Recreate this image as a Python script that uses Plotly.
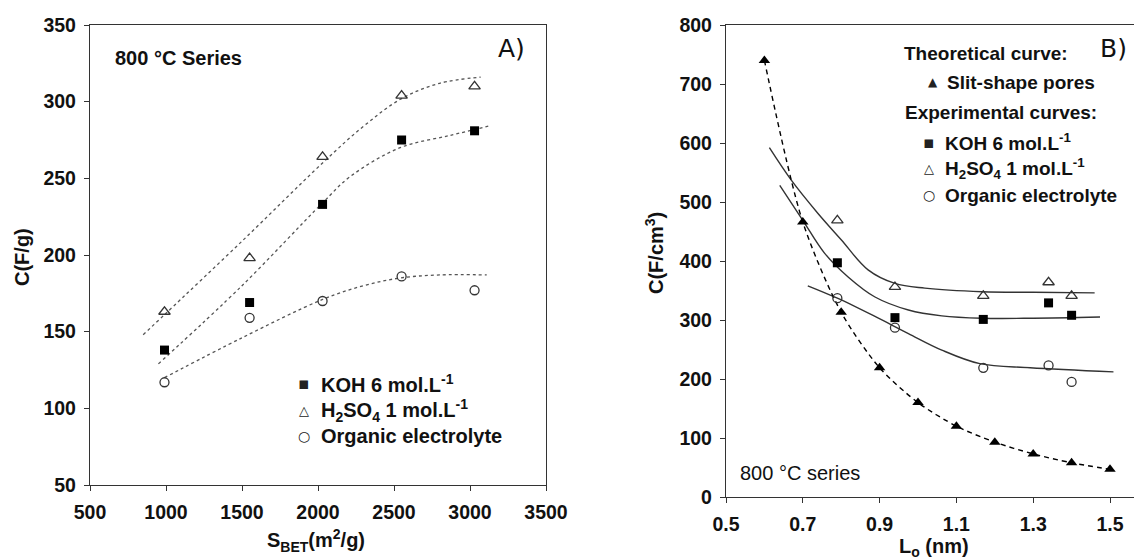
import plotly.graph_objects as go

# ---------------- Panel A data ----------------
sbet = [990, 1550, 2030, 2550, 3030]
koh_a = [138, 169, 233, 275, 281]
h2so4_a = [163, 198, 264, 304, 310]
org_a = [117, 159, 170, 186, 177]

# fitted (dashed) curves
koh_a_fit_x = [950, 1500, 2030, 2210, 2540, 2870, 3120]
koh_a_fit_y = [129, 180, 234, 251, 270, 278, 284]
h2so4_a_fit_x = [850, 1000, 1500, 2030, 2300, 2550, 2800, 3070]
h2so4_a_fit_y = [148, 162, 209, 260, 284, 302, 312, 316]
org_a_fit_x = [990, 1500, 2030, 2300, 2540, 2800, 3110]
org_a_fit_y = [120, 146, 171, 180, 185, 187, 187]

# ---------------- Panel B data ----------------
lo = [0.79, 0.94, 1.17, 1.34, 1.40]
koh_b = [397, 304, 301, 329, 308]
h2so4_b = [469, 356, 341, 364, 341]
org_b = [337, 287, 219, 223, 195]

slit_x = [0.6, 0.7, 0.8, 0.9, 1.0, 1.1, 1.2, 1.3, 1.4, 1.5]
slit_y = [740, 466, 313, 219, 160, 120, 93, 73, 58, 47]

h2so4_b_fit_x = [0.613, 0.67, 0.739, 0.80, 0.87, 0.94, 1.018, 1.167, 1.30, 1.46]
h2so4_b_fit_y = [592, 537, 481, 436, 385, 362, 354, 348, 347, 346]
koh_b_fit_x = [0.64, 0.70, 0.757, 0.818, 0.888, 0.975, 1.062, 1.167, 1.30, 1.474]
koh_b_fit_y = [528, 469, 413, 373, 339, 317, 307, 303, 303, 305]
org_b_fit_x = [0.713, 0.79, 0.888, 0.975, 1.062, 1.161, 1.292, 1.509]
org_b_fit_y = [358, 337, 306, 277, 249, 226, 219, 212]

legend_a = ["KOH 6 mol.L<sup>-1</sup>", "H<sub>2</sub>SO<sub>4</sub> 1 mol.L<sup>-1</sup>", "Organic electrolyte"]
legend_b = ["Slit-shape pores", "KOH 6 mol.L<sup>-1</sup>", "H<sub>2</sub>SO<sub>4</sub> 1 mol.L<sup>-1</sup>", "Organic electrolyte"]

W, H = 1134, 560
def px(x):
    return x / W
def py(y):
    return 1 - y / H

AX = "#333333"
FONT = "Liberation Sans, Arial, sans-serif"

fig = go.Figure()

dash_a = dict(color="#555555", width=1.3, dash="3px,3px", shape="spline", smoothing=1.0)
for fx, fy in [(h2so4_a_fit_x, h2so4_a_fit_y), (koh_a_fit_x, koh_a_fit_y), (org_a_fit_x, org_a_fit_y)]:
    fig.add_trace(go.Scatter(x=fx, y=fy, mode="lines", line=dash_a, xaxis="x", yaxis="y",
                             showlegend=False, hoverinfo="skip"))

fig.add_trace(go.Scatter(x=sbet, y=koh_a, mode="markers", xaxis="x", yaxis="y", showlegend=False,
                         marker=dict(symbol="square", size=9, color="black")))
fig.add_trace(go.Scatter(x=sbet, y=h2so4_a, mode="markers", xaxis="x", yaxis="y", showlegend=False,
                         marker=dict(symbol="triangle-up-open", size=10, color="#333333", line=dict(width=1.3))))
fig.add_trace(go.Scatter(x=sbet, y=org_a, mode="markers", xaxis="x", yaxis="y", showlegend=False,
                         marker=dict(symbol="circle-open", size=9, color="#333333", line=dict(width=1.3))))

solid_b = dict(color="#333333", width=1.4, shape="spline", smoothing=1.0)
for fx, fy in [(h2so4_b_fit_x, h2so4_b_fit_y), (koh_b_fit_x, koh_b_fit_y), (org_b_fit_x, org_b_fit_y)]:
    fig.add_trace(go.Scatter(x=fx, y=fy, mode="lines", line=solid_b, xaxis="x2", yaxis="y2",
                             showlegend=False, hoverinfo="skip"))
fig.add_trace(go.Scatter(x=slit_x, y=slit_y, mode="lines+markers", xaxis="x2", yaxis="y2", showlegend=False,
                         line=dict(color="black", width=1.4, dash="5px,4px", shape="spline", smoothing=0.8),
                         marker=dict(symbol="triangle-up", size=10, color="black")))
fig.add_trace(go.Scatter(x=lo, y=koh_b, mode="markers", xaxis="x2", yaxis="y2", showlegend=False,
                         marker=dict(symbol="square", size=9, color="black")))
fig.add_trace(go.Scatter(x=lo, y=h2so4_b, mode="markers", xaxis="x2", yaxis="y2", showlegend=False,
                         marker=dict(symbol="triangle-up-open", size=10, color="#333333", line=dict(width=1.3))))
fig.add_trace(go.Scatter(x=lo, y=org_b, mode="markers", xaxis="x2", yaxis="y2", showlegend=False,
                         marker=dict(symbol="circle-open", size=9, color="#333333", line=dict(width=1.3))))

tickfont = dict(family=FONT, size=19.5, color="#111111", weight="bold")
axis_common = dict(showline=True, linecolor=AX, linewidth=1.3, ticks="outside", ticklen=5,
                   tickwidth=1.2, tickcolor=AX, showgrid=False, zeroline=False, tickfont=tickfont,
                   automargin=False, ticklabelstandoff=4)

fig.update_layout(
    width=W, height=H, margin=dict(l=0, r=0, t=0, b=0),
    paper_bgcolor="white", plot_bgcolor="white", showlegend=False,
    xaxis=dict(domain=[px(90), px(546)], range=[500, 3500], tickvals=[500, 1000, 1500, 2000, 2500, 3000, 3500],
               mirror=True, anchor="y", **axis_common),
    yaxis=dict(domain=[py(485), py(25)], range=[50, 350], tickvals=[50, 100, 150, 200, 250, 300, 350],
               mirror=True, anchor="x", **axis_common),
    xaxis2=dict(domain=[px(726), 1.0], range=[0.5, 1.5625], tickvals=[0.5, 0.7, 0.9, 1.1, 1.3, 1.5],
                ticktext=["0.5", "0.7", "0.9", "1.1", "1.3", "1.5"],
                mirror=True, anchor="y2", **axis_common),
    yaxis2=dict(domain=[py(497), py(25)], range=[0, 800], tickvals=[0, 100, 200, 300, 400, 500, 600, 700, 800],
                mirror=False, anchor="x2", **axis_common),
)

ann = []
def txt(x, y, text, size=19, bold=True, xanchor="left", family=FONT, angle=0, color="#111111"):
    ann.append(dict(x=px(x), y=py(y), xref="paper", yref="paper", text=text, showarrow=False,
                    xanchor=xanchor, yanchor="middle", textangle=angle,
                    font=dict(family=family, size=size, color=color, weight="bold" if bold else "normal")))

# Panel A texts
txt(113, 58, "800 °C Series", size=20)
txt(511, 48, "A)", size=25, bold=False, xanchor="center", family="DejaVu Sans")
txt(22, 257, "C(F/g)", size=20, xanchor="center", angle=-90)
txt(316, 540, "S<sub>BET</sub>(m<sup>2</sup>/g)", size=20, xanchor="center")
glyphs_a = ["▪", "△", "○"]
for i, (g, lab) in enumerate(zip(glyphs_a, legend_a)):
    yy = [383, 410, 436][i]
    txt(304, yy, g, size=[17, 13, 14][i], bold=False, xanchor="center", family="DejaVu Sans", color="#222222")
    txt(319, yy, lab, size=20)

# Panel B texts
txt(1113, 48, "B)", size=25, bold=False, xanchor="center", family="DejaVu Sans")
txt(655, 253, "C(F/cm<sup>3</sup>)", size=20, xanchor="center", angle=-90)
txt(934, 547, "L<sub>o</sub> (nm)", size=20, xanchor="center")
txt(738, 473, "800 °C series", size=20, bold=False)
txt(902, 53, "Theoretical curve:")
txt(903, 113, "Experimental curves:")
glyphs_b = ["▲", "▪", "△", "○"]
for i, (g, lab) in enumerate(zip(glyphs_b, legend_b)):
    yy = [82, 142, 168, 195][i]
    gx = 933 if i == 0 else 929
    tx = 945 if i == 0 else 943
    txt(gx, yy, g, size=[12, 17, 13, 14][i], bold=False, xanchor="center", family="DejaVu Sans", color="#222222")
    txt(tx, yy, lab)

fig.update_layout(annotations=ann)
fig.write_html("out.html")
